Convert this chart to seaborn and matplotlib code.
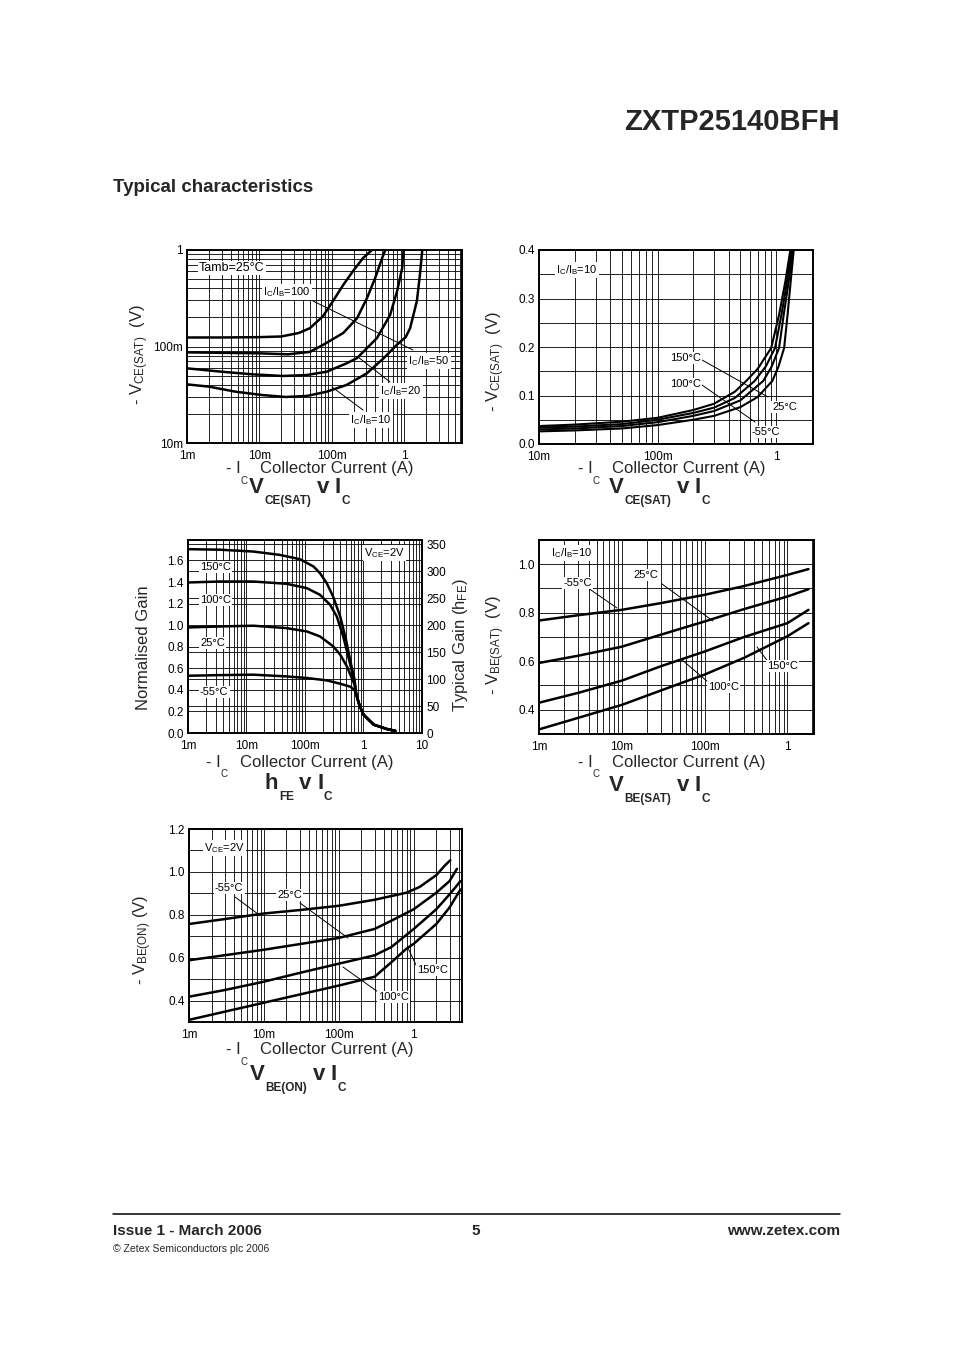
import pandas as pd
import matplotlib
matplotlib.use('Agg')
import matplotlib.pyplot as plt
import seaborn as sns
from matplotlib.lines import Line2D
from matplotlib.text import Annotation
from matplotlib.ticker import FixedLocator, FixedFormatter, MultipleLocator, NullFormatter, LogLocator

# -----------------------------------
# DATA
# -----------------------------------
# VCE(sat) v IC at Tamb=25C, four IC/IB ratios
sat_ic_100 = [0.001, 0.003, 0.01, 0.02, 0.035, 0.05, 0.076, 0.104, 0.144, 0.197, 0.271, 0.36]
sat_v_100 = [0.124, 0.124, 0.125, 0.127, 0.138, 0.155, 0.207, 0.296, 0.434, 0.606, 0.826, 1.0]
sat_ic_50 = [0.001, 0.003, 0.01, 0.025, 0.05, 0.076, 0.144, 0.224, 0.307, 0.398, 0.497, 0.55]
sat_v_50 = [0.087, 0.086, 0.085, 0.083, 0.088, 0.104, 0.138, 0.197, 0.318, 0.513, 0.826, 1.0]
sat_ic_20 = [0.001, 0.003, 0.008, 0.021, 0.045, 0.085, 0.161, 0.224, 0.42, 0.64, 0.8, 0.94, 0.98]
sat_v_20 = [0.0594, 0.0548, 0.0515, 0.0495, 0.0506, 0.0548, 0.067, 0.076, 0.122, 0.212, 0.376, 0.65, 1.0]
sat_ic_10 = [0.001, 0.002, 0.0047, 0.011, 0.023, 0.045, 0.085, 0.161, 0.305, 0.52, 0.8, 1.05, 1.21, 1.5, 1.65, 1.78]
sat_v_10 = [0.0405, 0.0384, 0.034, 0.0314, 0.030, 0.0307, 0.034, 0.040, 0.0527, 0.0754, 0.105, 0.125, 0.155, 0.296, 0.55, 1.0]

# VCE(sat) v IC, IC/IB=10, four temperatures
temp_ic_150 = [0.01, 0.02, 0.05, 0.1, 0.2, 0.3, 0.45, 0.56, 0.7, 0.91, 1.06, 1.2, 1.32]
temp_v_150 = [0.037, 0.040, 0.046, 0.054, 0.070, 0.083, 0.108, 0.13, 0.155, 0.198, 0.266, 0.336, 0.40]
temp_ic_100 = [0.01, 0.02, 0.05, 0.1, 0.2, 0.3, 0.45, 0.66, 0.82, 0.98, 1.11, 1.24, 1.35]
temp_v_100 = [0.034, 0.036, 0.041, 0.050, 0.064, 0.075, 0.095, 0.13, 0.16, 0.198, 0.266, 0.336, 0.40]
temp_ic_25 = [0.01, 0.02, 0.05, 0.1, 0.2, 0.3, 0.5, 0.78, 0.92, 1.06, 1.16, 1.28, 1.38]
temp_v_25 = [0.030, 0.032, 0.037, 0.045, 0.058, 0.068, 0.090, 0.13, 0.16, 0.198, 0.266, 0.336, 0.40]
temp_ic_m55 = [0.01, 0.02, 0.05, 0.1, 0.2, 0.3, 0.5, 0.7, 0.93, 1.05, 1.17, 1.25, 1.33, 1.41]
temp_v_m55 = [0.026, 0.028, 0.032, 0.039, 0.050, 0.058, 0.076, 0.097, 0.13, 0.16, 0.198, 0.266, 0.336, 0.40]

# hFE v IC (normalised gain), VCE=2V; curves share the tail above 0.75A
hfe_tail_ic = [0.75, 0.85, 1.0, 1.5, 2.5, 3.5]
hfe_tail_g = [0.36, 0.26, 0.17, 0.077, 0.037, 0.02]
hfe_ic_150 = [0.001, 0.0035, 0.013, 0.037, 0.082, 0.14, 0.18, 0.235, 0.3, 0.4, 0.5, 0.6, 0.7]
hfe_g_150 = [1.705, 1.70, 1.683, 1.652, 1.612, 1.544, 1.483, 1.39, 1.27, 1.08, 0.87, 0.66, 0.50]
hfe_ic_100 = [0.001, 0.0035, 0.013, 0.048, 0.107, 0.18, 0.268, 0.35, 0.45, 0.59, 0.7]
hfe_g_100 = [1.396, 1.405, 1.405, 1.384, 1.344, 1.282, 1.19, 1.08, 0.896, 0.64, 0.48]
hfe_ic_25 = [0.001, 0.0035, 0.013, 0.048, 0.107, 0.18, 0.305, 0.4, 0.52, 0.63, 0.7]
hfe_g_25 = [0.979, 0.988, 0.995, 0.973, 0.942, 0.896, 0.803, 0.726, 0.618, 0.51, 0.45]
hfe_ic_m55 = [0.001, 0.0035, 0.013, 0.048, 0.107, 0.235, 0.4, 0.59, 0.7]
hfe_g_m55 = [0.531, 0.537, 0.541, 0.525, 0.51, 0.488, 0.457, 0.43, 0.40]
hfe_scale = 200  # typical hFE at normalised gain 1.0

# VBE(sat) v IC, IC/IB=10
bes_ic = [0.001, 0.003, 0.01, 0.03, 0.1, 0.3, 1.0, 1.8]
bes_v_m55 = [0.768, 0.79, 0.812, 0.84, 0.874, 0.91, 0.956, 0.98]
bes_v_25 = [0.593, 0.623, 0.66, 0.71, 0.764, 0.815, 0.867, 0.897]
bes_v_100 = [0.429, 0.47, 0.52, 0.58, 0.64, 0.70, 0.757, 0.812]
bes_v_150 = [0.319, 0.367, 0.42, 0.48, 0.545, 0.614, 0.703, 0.757]

# VBE(on) v IC, VCE=2V
bon_ic_m55 = [0.001, 0.003, 0.01, 0.03, 0.1, 0.3, 0.8, 1.2, 2.0, 2.6, 3.07]
bon_v_m55 = [0.757, 0.78, 0.806, 0.822, 0.842, 0.87, 0.903, 0.93, 0.985, 1.03, 1.054]
bon_ic_25 = [0.001, 0.01, 0.1, 0.3, 0.5, 1.0, 2.0, 3.0, 3.76]
bon_v_25 = [0.588, 0.637, 0.692, 0.734, 0.772, 0.826, 0.903, 0.957, 1.014]
bon_ic_100 = [0.001, 0.003, 0.01, 0.03, 0.1, 0.3, 0.5, 1.0, 2.0, 3.0, 4.2]
bon_v_100 = [0.418, 0.449, 0.488, 0.529, 0.572, 0.611, 0.649, 0.734, 0.826, 0.895, 0.957]
bon_ic_150 = [0.001, 0.01, 0.1, 0.3, 0.5, 0.8, 1.0, 2.0, 3.0, 4.2]
bon_v_150 = [0.31, 0.39, 0.47, 0.511, 0.578, 0.642, 0.665, 0.757, 0.834, 0.918]

# -----------------------------------
# VISUAL SETTINGS
# -----------------------------------
sns.set_theme(style='white')
plt.rcParams['font.family'] = ['Liberation Sans', 'DejaVu Sans']
plt.rcParams['mathtext.fontset'] = 'custom'
plt.rcParams['mathtext.rm'] = 'Liberation Sans'
plt.rcParams['mathtext.it'] = 'Liberation Sans:italic'
plt.rcParams['mathtext.bf'] = 'Liberation Sans:bold'

TICK = 8.5
ANNOT = 8
AXLAB = 12

W, H = 954, 1351
fig = plt.figure(figsize=(W / 100, H / 100), dpi=100)
fig.patch.set_facecolor('white')


def fx(x):
    return x / W


def fy(y):
    return 1 - y / H


def panel(l, t, r, b):
    ax = fig.add_axes([fx(l), fy(b), (r - l) / W, (b - t) / H])
    ax.set_facecolor('white')
    for s in ax.spines.values():
        s.set_visible(True)
        s.set_color('black')
        s.set_linewidth(1.4)
    ax.tick_params(which='both', length=0, pad=3, labelsize=TICK, colors='black')
    ax.tick_params(axis='x', pad=5)
    return ax


def log_x(ax, lo, hi, ticks, labels):
    ax.set_xscale('log')
    ax.set_xlim(lo, hi)
    ax.xaxis.set_major_locator(FixedLocator(ticks))
    ax.xaxis.set_major_formatter(FixedFormatter(labels))
    ax.xaxis.set_minor_locator(LogLocator(base=10, subs=range(2, 10), numticks=50))
    ax.xaxis.set_minor_formatter(NullFormatter())


def draw(ax, curves, lw=1.8):
    df = pd.concat(
        [pd.DataFrame({'ic': x, 'v': y, 'curve': k}) for k, (x, y) in curves.items()],
        ignore_index=True)
    sns.lineplot(data=df, x='ic', y='v', units='curve', estimator=None, sort=False,
                 color='black', lw=lw, ax=ax, legend=False)
    ax.set_xlabel('')
    ax.set_ylabel('')
    ax.grid(True, which='both', color='#111111', lw=0.65)
    ax.set_axisbelow(True)


def label(x, y, s, size=ANNOT, ha='left', box=True):
    fig.text(fx(x), fy(y), s, ha=ha, va='center', fontsize=size, color='black',
             bbox=dict(fc='white', ec='none', pad=1.0) if box else None, zorder=5)


def leader(x0, y0, x1, y1):
    fig.add_artist(Line2D([fx(x0), fx(x1)], [fy(y0), fy(y1)], color='black', lw=0.7, zorder=4))


def ylab(x, y, s):
    fig.text(fx(x), fy(y), s, rotation=90, ha='center', va='center', fontsize=AXLAB)


def chain(x, y, parts, weight='normal'):
    # text pieces set one after another on a common baseline; (text, size, drop_pt, gap_pt)
    prev = fig.text(fx(x), fy(y), parts[0][0], fontsize=parts[0][1], fontweight=weight,
                    ha='left', va='baseline')
    for s, size, dy, gap in parts[1:]:
        a = Annotation(s, xy=(1, fy(y)), xycoords=(prev, 'figure fraction'),
                       xytext=(gap, dy), textcoords='offset points', ha='left',
                       va='baseline', fontsize=size, fontweight=weight)
        fig.add_artist(a)
        prev = a


def xlab(x, y, drop=-7):
    chain(x, y, [('- I', AXLAB, 0, 0), ('C', 7, drop, 0), ('Collector Current (A)', AXLAB, 0, 9)])


def title(x, y, base, sub):
    chain(x, y, [(base, 16, 0, 0), (sub, 8.5, -8, 0.3), ('v', 16, 0, 4),
                 ('I', 16, 0, 4), ('C', 8.5, -8, 0.3)], weight='bold')


# -----------------------------------
# PAGE HEADER
# -----------------------------------
fig.text(fx(840), fy(122), 'ZXTP25140BFH', ha='right', va='center', fontsize=21,
         fontweight='bold')
fig.text(fx(113), fy(188), 'Typical characteristics', ha='left', va='center', fontsize=13.5,
         fontweight='bold')

# -----------------------------------
# VCE(SAT) v IC  (IC/IB ratios)
# -----------------------------------
ax1 = panel(187, 250, 462, 443)
log_x(ax1, 1e-3, 6.3, [1e-3, 1e-2, 1e-1, 1], ['1m', '10m', '100m', '1'])
ax1.set_yscale('log')
ax1.set_ylim(0.01, 1)
ax1.yaxis.set_major_locator(FixedLocator([0.01, 0.1, 1]))
ax1.yaxis.set_major_formatter(FixedFormatter(['10m', '100m', '1']))
ax1.yaxis.set_minor_locator(LogLocator(base=10, subs=range(2, 10), numticks=50))
ax1.yaxis.set_minor_formatter(NullFormatter())
draw(ax1, {'100': (sat_ic_100, sat_v_100), '50': (sat_ic_50, sat_v_50),
           '20': (sat_ic_20, sat_v_20), '10': (sat_ic_10, sat_v_10)})

label(199, 268, 'Tamb=25°C', size=9)
leader(313, 301, 413, 350)
leader(358, 357, 390, 382)
leader(332, 387, 363, 410)
label(263, 292, r'I$_\mathrm{C}$/I$_\mathrm{B}$=100')
label(408, 361, r'I$_\mathrm{C}$/I$_\mathrm{B}$=50')
label(380, 391, r'I$_\mathrm{C}$/I$_\mathrm{B}$=20')
label(350, 420, r'I$_\mathrm{C}$/I$_\mathrm{B}$=10')
ylab(140, 355, r'- V$_\mathrm{CE(SAT)}$  (V)')
xlab(226, 473, drop=-8)
title(249, 493, 'V', 'CE(SAT)')

# -----------------------------------
# VCE(SAT) v IC  (temperature)
# -----------------------------------
ax2 = panel(539, 250, 813, 444)
log_x(ax2, 1e-2, 2.05, [1e-2, 1e-1, 1], ['10m', '100m', '1'])
ax2.set_ylim(0, 0.4)
ax2.yaxis.set_major_locator(FixedLocator([0.0, 0.1, 0.2, 0.3, 0.4]))
ax2.yaxis.set_major_formatter(FixedFormatter(['0.0', '0.1', '0.2', '0.3', '0.4']))
ax2.yaxis.set_minor_locator(MultipleLocator(0.05))
draw(ax2, {'150': (temp_ic_150, temp_v_150), '100': (temp_ic_100, temp_v_100),
           '25': (temp_ic_25, temp_v_25), '-55': (temp_ic_m55, temp_v_m55)}, lw=1.5)

label(556, 270, r'I$_\mathrm{C}$/I$_\mathrm{B}$=10')
leader(702, 360, 768, 397)
leader(702, 385, 755, 422)
label(670, 358, '150°C')
label(670, 384, '100°C')
label(772, 407, '25°C')
label(752, 432, '-55°C')
ylab(496, 362, r'- V$_\mathrm{CE(SAT)}$  (V)')
xlab(578, 473, drop=-8)
title(609, 493, 'V', 'CE(SAT)')

# -----------------------------------
# hFE v IC
# -----------------------------------
ax3 = panel(188, 540, 422, 733)
log_x(ax3, 1e-3, 10, [1e-3, 1e-2, 1e-1, 1, 10], ['1m', '10m', '100m', '1', '10'])
ax3.set_ylim(0, 1.79)
ax3.yaxis.set_major_locator(FixedLocator([0.0, 0.2, 0.4, 0.6, 0.8, 1.0, 1.2, 1.4, 1.6]))
ax3.yaxis.set_major_formatter(FixedFormatter(['0.0', '0.2', '0.4', '0.6', '0.8', '1.0', '1.2', '1.4', '1.6']))
gain_ticks = [0, 50, 100, 150, 200, 250, 300, 350]
ax3.yaxis.set_minor_locator(FixedLocator([g / hfe_scale for g in gain_ticks]))
hfe_curves = {}
for k, (x, y) in {'150': (hfe_ic_150, hfe_g_150), '100': (hfe_ic_100, hfe_g_100),
                  '25': (hfe_ic_25, hfe_g_25), '-55': (hfe_ic_m55, hfe_g_m55)}.items():
    hfe_curves[k] = (x + hfe_tail_ic, y + hfe_tail_g)
draw(ax3, hfe_curves)
ax3r = ax3.twinx()
ax3r.set_ylim(0, 1.79 * hfe_scale)
ax3r.yaxis.set_major_locator(FixedLocator(gain_ticks))
ax3r.grid(False)
ax3r.tick_params(length=0, pad=3, labelsize=TICK, colors='black')
for s in ax3r.spines.values():
    s.set_visible(False)

label(364, 553, r'V$_\mathrm{CE}$=2V')
label(200, 567, '150°C')
label(200, 600, '100°C')
label(200, 643, '25°C')
label(200, 692, '-55°C')
ylab(143, 648, 'Normalised Gain')
ylab(461, 645, r'Typical Gain (h$_\mathrm{FE}$)')
xlab(206, 767, drop=-7)
title(265, 789, 'h', 'FE')

# -----------------------------------
# VBE(SAT) v IC
# -----------------------------------
ax4 = panel(539, 540, 814, 734)
log_x(ax4, 1e-3, 2.1, [1e-3, 1e-2, 1e-1, 1], ['1m', '10m', '100m', '1'])
ax4.set_ylim(0.3, 1.1)
ax4.yaxis.set_major_locator(FixedLocator([0.4, 0.6, 0.8, 1.0]))
ax4.yaxis.set_major_formatter(FixedFormatter(['0.4', '0.6', '0.8', '1.0']))
ax4.yaxis.set_minor_locator(MultipleLocator(0.1))
draw(ax4, {'-55': (bes_ic, bes_v_m55), '25': (bes_ic, bes_v_25),
           '100': (bes_ic, bes_v_100), '150': (bes_ic, bes_v_150)})

label(551, 553, r'I$_\mathrm{C}$/I$_\mathrm{B}$=10')
leader(588, 588, 617, 608)
leader(662, 584, 713, 621)
leader(769, 663, 757, 647)
leader(708, 682, 681, 659)
label(563, 583, '-55°C')
label(633, 575, '25°C')
label(767, 666, '150°C')
label(708, 687, '100°C')
ylab(496, 645, r'- V$_\mathrm{BE(SAT)}$  (V)')
xlab(578, 767, drop=-7)
title(609, 791, 'V', 'BE(SAT)')

# -----------------------------------
# VBE(ON) v IC
# -----------------------------------
ax5 = panel(189, 829, 462, 1022)
log_x(ax5, 1e-3, 4.4, [1e-3, 1e-2, 1e-1, 1], ['1m', '10m', '100m', '1'])
ax5.set_ylim(0.3, 1.2)
ax5.yaxis.set_major_locator(FixedLocator([0.4, 0.6, 0.8, 1.0, 1.2]))
ax5.yaxis.set_major_formatter(FixedFormatter(['0.4', '0.6', '0.8', '1.0', '1.2']))
ax5.yaxis.set_minor_locator(MultipleLocator(0.1))
draw(ax5, {'-55': (bon_ic_m55, bon_v_m55), '25': (bon_ic_25, bon_v_25),
           '100': (bon_ic_100, bon_v_100), '150': (bon_ic_150, bon_v_150)})

label(204, 848, r'V$_\mathrm{CE}$=2V')
leader(235, 897, 258, 914)
leader(300, 903, 348, 938)
leader(416, 965, 408, 948)
leader(378, 992, 343, 967)
label(215, 888, '-55°C')
label(277, 895, '25°C')
label(417, 970, '150°C')
label(378, 997, '100°C')
ylab(143, 940, r'- V$_\mathrm{BE(ON)}$ (V)')
xlab(226, 1054, drop=-8)
title(250, 1080, 'V', 'BE(ON)')

# -----------------------------------
# PAGE FOOTER
# -----------------------------------
fig.add_artist(Line2D([fx(113), fx(840)], [fy(1214), fy(1214)], color='black', lw=1.1))
fig.text(fx(113), fy(1231), 'Issue 1 - March 2006', ha='left', va='center', fontsize=11,
         fontweight='bold')
fig.text(fx(476), fy(1231), '5', ha='center', va='center', fontsize=11, fontweight='bold')
fig.text(fx(840), fy(1231), 'www.zetex.com', ha='right', va='center', fontsize=11,
         fontweight='bold')
fig.text(fx(113), fy(1249), '© Zetex Semiconductors plc 2006', ha='left', va='center',
         fontsize=7.5)

fig.savefig('out.png', dpi=100, facecolor='white')
